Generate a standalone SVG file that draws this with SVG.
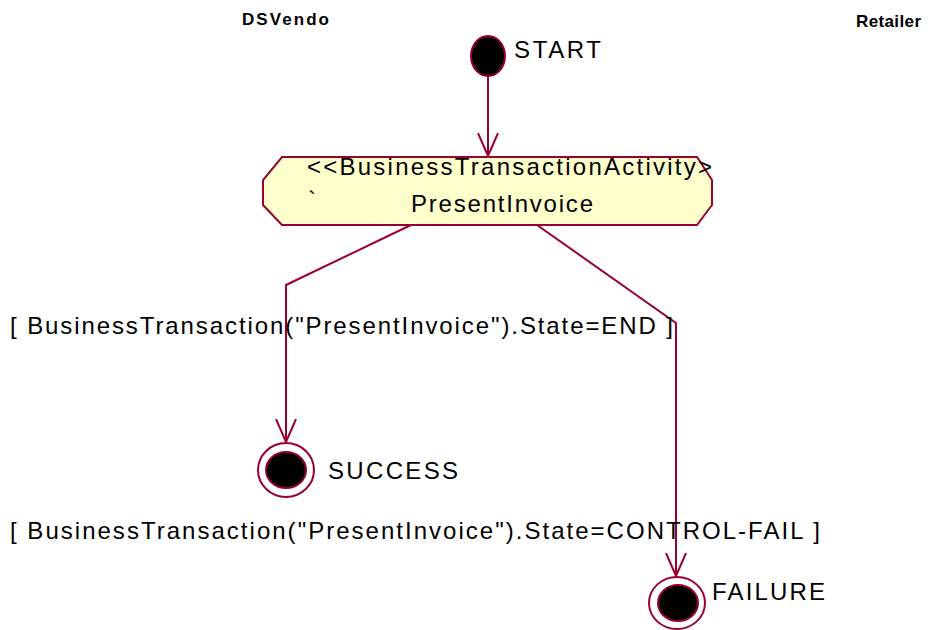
<svg xmlns="http://www.w3.org/2000/svg" width="932" height="630" viewBox="0 0 932 630">
<defs>
<style>
.t{font-family:"Liberation Sans",Arial,sans-serif;font-size:24px;fill:#000}
.h{font-family:"Liberation Sans",Arial,sans-serif;font-size:17px;font-weight:bold;fill:#000}
.e{fill:none;stroke:#990033;stroke-width:2}
.n{stroke:#990033;stroke-width:2}
</style>
<marker id="arr" viewBox="0 0 24 22" refX="23" refY="11" markerWidth="24" markerHeight="22" markerUnits="userSpaceOnUse" orient="auto">
<path d="M0,1 L23,11 L0,21" fill="none" stroke="#990033" stroke-width="2"/>
</marker>
</defs>
<rect width="932" height="630" fill="#fff"/>
<g id="swimlanes">
<text class="h" x="242" y="25" textLength="87" lengthAdjust="spacing">DSVendo</text>
<text class="h" x="856" y="27" textLength="65" lengthAdjust="spacing">Retailer</text>
</g>
<g id="connectors">
<path class="e" d="M488,77 L488,156" marker-end="url(#arr)"/>
<path class="e" d="M411,225 L286,285 L286,442" marker-end="url(#arr)"/>
<path class="e" d="M537,225 L676,323 L676,576" marker-end="url(#arr)"/>
<text class="t" x="10" y="334" textLength="663" lengthAdjust="spacing">[ BusinessTransaction("PresentInvoice").State=END ]</text>
<text class="t" x="10" y="539" textLength="810" lengthAdjust="spacing">[ BusinessTransaction("PresentInvoice").State=CONTROL-FAIL ]</text>
</g>
<g id="start">
<ellipse class="n" cx="488" cy="56" rx="17" ry="20" fill="#000"/>
<text class="t" x="514" y="58" textLength="87" lengthAdjust="spacing">START</text>
</g>
<g id="presentInvoice">
<polygon class="n" fill="#FFFFCC" points="282,157 697,157 712,180 712,205 697,225 282,225 263,205 263,180"/>
<text class="t" x="307" y="175" textLength="405" lengthAdjust="spacing">&lt;&lt;BusinessTransactionActivity&gt;</text>
<text class="t" x="308" y="208">`</text>
<text class="t" x="411" y="212" textLength="182" lengthAdjust="spacing">PresentInvoice</text>
</g>
<g id="success">
<ellipse class="n" cx="286" cy="470" rx="28" ry="27" fill="#fff"/>
<ellipse class="n" cx="286" cy="470" rx="20" ry="18" fill="#000"/>
<text class="t" x="328" y="479" textLength="130" lengthAdjust="spacing">SUCCESS</text>
</g>
<g id="failure">
<ellipse class="n" cx="677" cy="603" rx="28" ry="26" fill="#fff"/>
<ellipse class="n" cx="678" cy="603" rx="20" ry="18" fill="#000"/>
<text class="t" x="712" y="600" textLength="113" lengthAdjust="spacing">FAILURE</text>
</g>
</svg>
